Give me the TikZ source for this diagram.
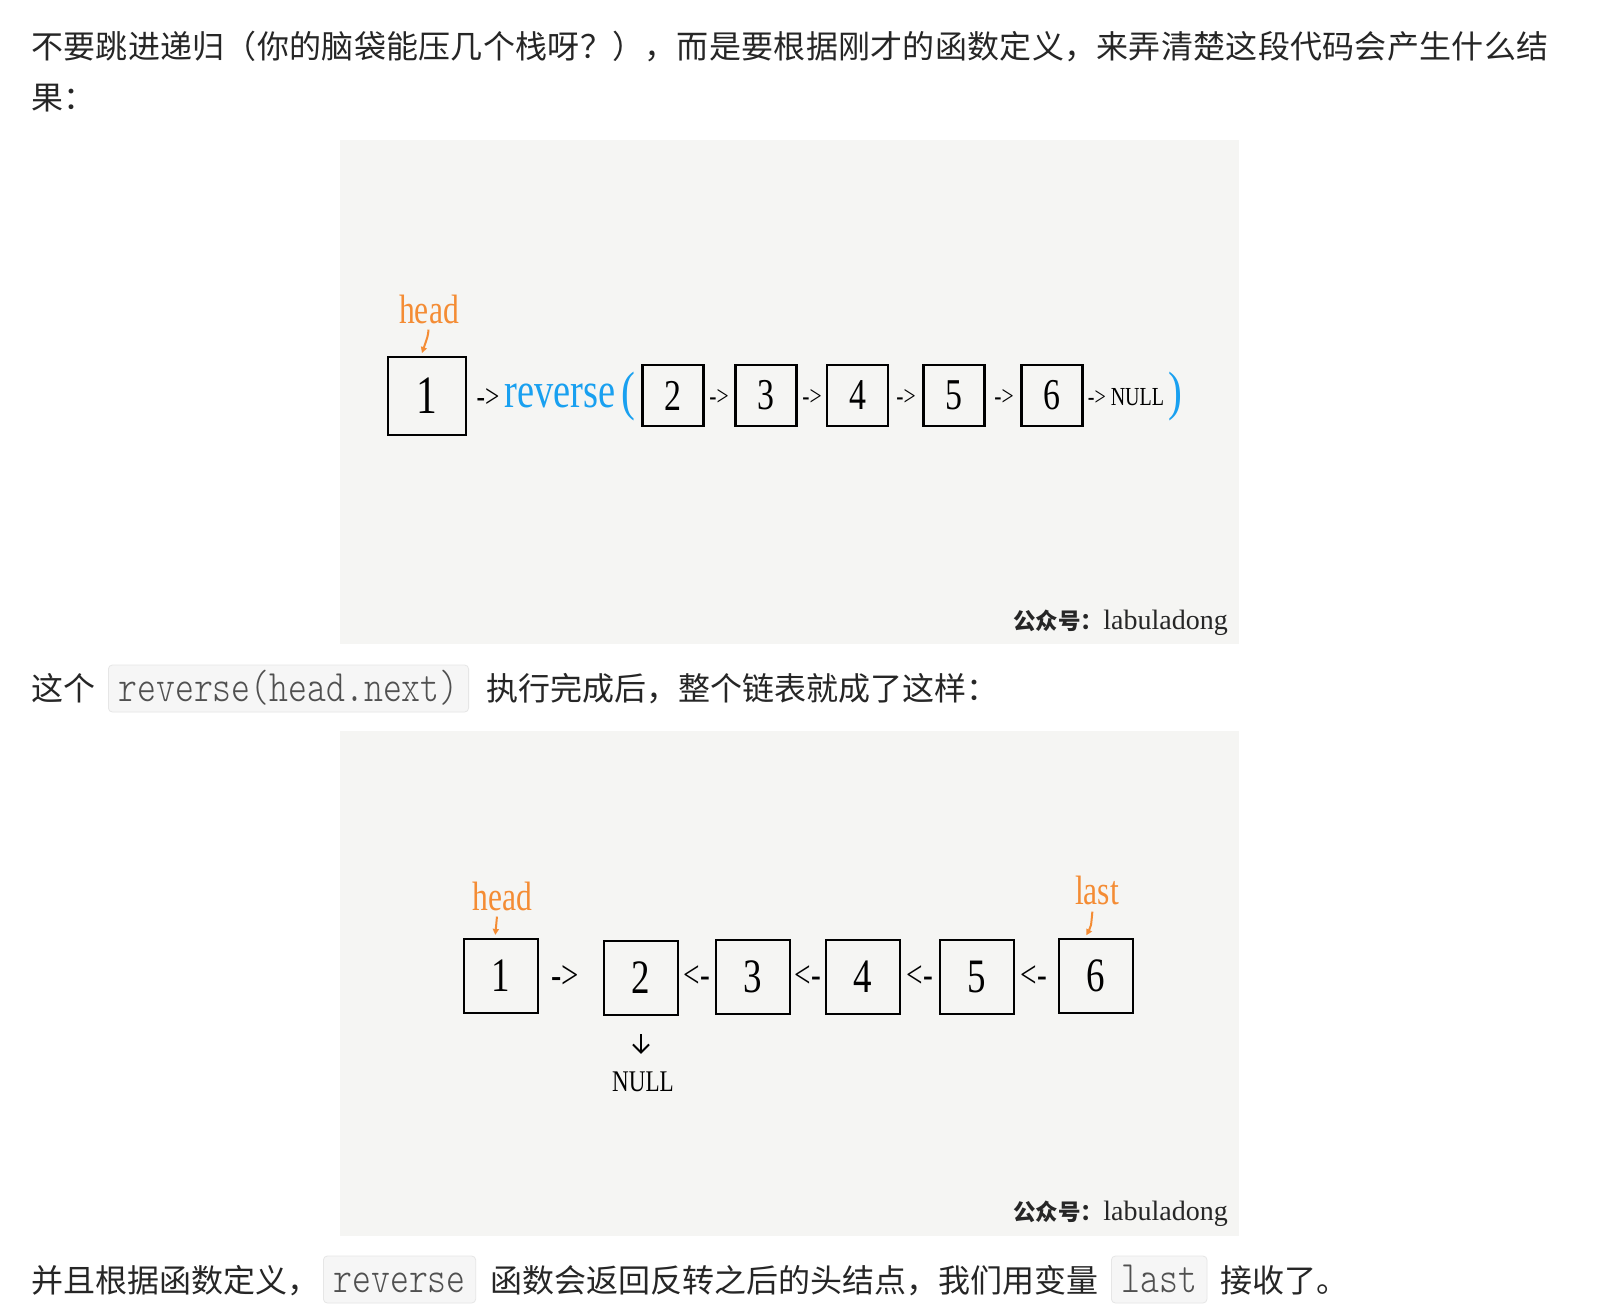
\documentclass[tikz,border=0pt]{standalone}
\usepackage{fontspec}
\usetikzlibrary{arrows.meta}
\newfontfamily\cjk{Noto Sans CJK SC}
\newfontfamily\cjkwide[LetterSpace=0.9]{Noto Sans CJK SC}
\newfontfamily\codefont[FakeStretch=0.8]{lmmonolt10-regular.otf}
\newfontfamily\dg[FakeStretch=0.77]{Liberation Serif}
\newfontfamily\wmfont{Liberation Serif}
\definecolor{txt}{RGB}{38,38,38}
\definecolor{bgc}{RGB}{245,245,243}
\definecolor{orng}{RGB}{244,140,52}
\definecolor{blu}{RGB}{25,160,240}
\definecolor{codebg}{RGB}{246,246,246}
\definecolor{codebd}{RGB}{230,230,230}
\definecolor{codetx}{RGB}{80,80,80}
\begin{document}
\begin{tikzpicture}[x=1pt,y=-1pt,
  para/.style={inner sep=0pt, text=txt, anchor=base west, font=\cjk\fontsize{32}{38}\selectfont},
  codebox/.style={draw=codebd, fill=codebg, rounded corners=4pt, line width=0.8pt, inner xsep=10pt, inner ysep=0pt,
    minimum height=47pt, text height=32pt, text depth=7pt, text=codetx, anchor=west,
    font=\codefont\fontsize{45}{48}\selectfont},
  bx/.style={draw=black, line width=2.2pt, inner sep=0pt},
  hd/.style={text=orng, inner sep=0pt, anchor=base, font=\dg\fontsize{41}{41}\selectfont},
  lbl/.style={text=black, inner sep=0pt, font=\dg},
  wm/.style={inner sep=0pt, anchor=base east, text=black!85, font=\wmfont\fontsize{28}{30}\selectfont},
  harrow/.style={draw=orng, line width=2pt, -{Triangle[length=6pt,width=6pt]}},
]
\useasboundingbox (0,0) rectangle (1608,1316);
\fill[white] (0,0) rectangle (1608,1316);

% paragraph text
\node[para, font=\cjkwide\fontsize{32}{38}\selectfont] (t1) at (31,58.7) {不要跳进递归（你的脑袋能压几个栈呀？），而是要根据刚才的函数定义，来弄清楚这段代码会产生什么结};
\node[para] (t2) at (31,110) {果：};

% image 1
\fill[bgc] (340,140) rectangle (1239,644);
\node[hd] (h1) at (429,323) {head};
\node[bx, minimum size=78pt, font=\dg\fontsize{54}{54}\selectfont] (a1) at (427,396) {1};
\node[lbl, anchor=base, font=\dg\fontsize{33}{33}\selectfont] (r1) at (488,407) {->};
\node[lbl, anchor=base, text=blu, font=\dg\fontsize{50}{50}\selectfont] (rv) at (560,407) {reverse};
\node[lbl, text=blu, font=\dg\fontsize{54}{54}\selectfont] (lp) at (628,397) {(};
\node[bx, minimum size=61pt, font=\dg\fontsize{44}{44}\selectfont] (a2) at (673,395.5) {2};
\node[lbl, font=\dg\fontsize{28}{28}\selectfont] (r2) at (719,397) {->};
\node[bx, minimum size=61pt, font=\dg\fontsize{44}{44}\selectfont] (a3) at (766,395.5) {3};
\node[lbl, font=\dg\fontsize{28}{28}\selectfont] (r3) at (812,397) {->};
\node[bx, minimum size=61pt, font=\dg\fontsize{44}{44}\selectfont] (a4) at (857.5,395.5) {4};
\node[lbl, font=\dg\fontsize{28}{28}\selectfont] (r4) at (906,397) {->};
\node[bx, minimum size=61pt, font=\dg\fontsize{44}{44}\selectfont] (a5) at (954,395.5) {5};
\node[lbl, font=\dg\fontsize{28}{28}\selectfont] (r5) at (1004,397) {->};
\node[bx, minimum size=61pt, font=\dg\fontsize{44}{44}\selectfont] (a6) at (1052,395.5) {6};
\node[lbl, font=\dg\fontsize{26}{26}\selectfont] (n1) at (1126,397) {-> NULL};
\node[lbl, text=blu, font=\dg\fontsize{54}{54}\selectfont] (rp) at (1175,397) {)};
\draw[harrow, shorten <=6pt, shorten >=3pt] (h1.south) .. controls ([xshift=-1pt,yshift=-12pt]h1.south) .. ([xshift=-6pt]a1.north);
\node[wm] (w1) at (1228,629) {{\cjk\bfseries\fontsize{22.5}{26}\selectfont 公众号：}labuladong};

% middle line
\node[para] (t3) at (31,700) {这个};
\node[codebox] (c1) at (108,688.5) {reverse(head.next)};
\node[para] (t4) at (486,700) {执行完成后，整个链表就成了这样：};

% image 2
\fill[bgc] (340,731) rectangle (1239,1236);
\node[hd] (h2) at (502.5,910) {head};
\node[hd] (l2) at (1097,904) {last};
\node[bx, minimum size=74pt, font=\dg\fontsize{48}{48}\selectfont] (b1) at (501,976) {1};
\node[lbl, font=\dg\fontsize{40}{40}\selectfont] (s1) at (565,977) {->};
\node[bx, minimum size=74pt, font=\dg\fontsize{48}{48}\selectfont] (b2) at (641,978) {2};
\node[lbl, font=\dg\fontsize{38}{38}\selectfont] (s2) at (697,977) {<-};
\node[bx, minimum size=74pt, font=\dg\fontsize{48}{48}\selectfont] (b3) at (753,977) {3};
\node[lbl, font=\dg\fontsize{38}{38}\selectfont] (s3) at (808,977) {<-};
\node[bx, minimum size=74pt, font=\dg\fontsize{48}{48}\selectfont] (b4) at (863,977) {4};
\node[lbl, font=\dg\fontsize{38}{38}\selectfont] (s4) at (920,977) {<-};
\node[bx, minimum size=74pt, font=\dg\fontsize{48}{48}\selectfont] (b5) at (977,977) {5};
\node[lbl, font=\dg\fontsize{38}{38}\selectfont] (s5) at (1034,977) {<-};
\node[bx, minimum size=74pt, font=\dg\fontsize{48}{48}\selectfont] (b6) at (1096,976) {6};
\node[lbl, font=\dg\fontsize{30}{30}\selectfont] (nl) at (643,1082) {NULL};
\draw[line width=2pt, -{Straight Barb[length=8pt,width=16pt]}, shorten <=18pt, shorten >=18pt] (b2.south) -- (b2.south |- nl.north);
\draw[harrow, shorten <=6pt, shorten >=3pt] ([xshift=-5pt]h2.south) -- ([xshift=-6pt]b1.north);
\draw[harrow, shorten <=7pt, shorten >=3pt] ([xshift=-4pt]l2.south) .. controls ([xshift=-6pt,yshift=-22pt]l2.south) .. ([xshift=-11pt]b6.north);
\node[wm] (w2) at (1228,1220) {{\cjk\bfseries\fontsize{22.5}{26}\selectfont 公众号：}labuladong};

% last line
\node[para] (t5) at (31,1292) {并且根据函数定义，};
\node[codebox] (c2) at (323,1279.5) {reverse};
\node[para] (t6) at (490,1292) {函数会返回反转之后的头结点，我们用变量};
\node[codebox] (c3) at (1111,1279.5) {last};
\node[para] (t7) at (1220,1292) {接收了。};
\end{tikzpicture}
\end{document}
